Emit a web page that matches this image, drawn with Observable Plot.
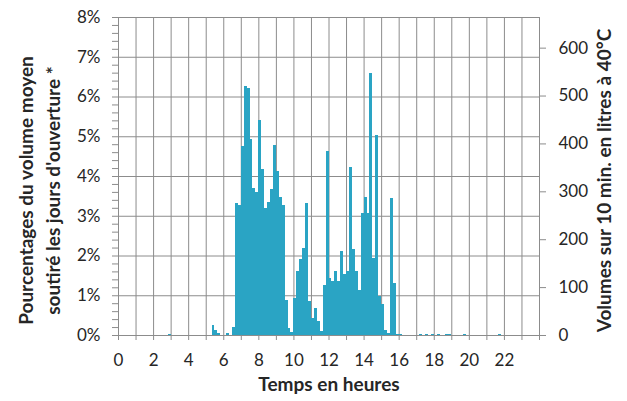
<!DOCTYPE html>
<html>
<head>
<meta charset="utf-8">
<script src="https://cdn.jsdelivr.net/npm/d3@7"></script>
<script src="https://cdn.jsdelivr.net/npm/@observablehq/plot@0.6"></script>
<style>
  html, body { margin: 0; padding: 0; background: #fff; }
  #chart svg { display: block; }
</style>
</head>
<body>
<div id="chart"></div>
<script>
// Hour grid, labelled hours, percentage grid and the litre scale on the right
const hourTicks = d3.range(0, 25);
const hourLabels = [0, 2, 4, 6, 8, 10, 12, 14, 16, 18, 20, 22];
const percentTicks = [0, 1, 2, 3, 4, 5, 6, 7, 8];
const litreTicks = [0, 100, 200, 300, 400, 500, 600];
const litresPerPercent = 83;

// Share of the mean volume drawn per 10-minute slot (%), two hours per row
const slots0to2   = [0,0,0,0,0,0, 0,0,0,0,0,0];
const slots2to4   = [0,0,0,0,0,0.03, 0,0,0,0,0,0];
const slots4to6   = [0,0,0,0,0,0, 0,0,0.25,0.12,0.05,0];
const slots6to8   = [0,0.05,0,0.21,3.32,3.26, 4.76,6.27,6.21,4.94,3.69,3.61];
const slots8to10  = [5.42,4.17,3.19,3.34,3.68,4.77, 4.13,3.48,3.26,0.88,0.17,0.08];
const slots10to12 = [0.92,1.6,1.91,2.2,3.32,0.86, 0.42,0.67,0.34,0.1,1.26,4.62];
const slots12to14 = [1.43,1.36,1.62,1.37,2.12,1.53, 1.62,4.22,2.17,1.62,1.13,3.07];
const slots14to16 = [3.48,3.07,6.59,1.93,5.04,0.97, 0.78,0.13,0.04,3.44,1.32,0.03];
const slots16to18 = [0.03,0,0,0,0,0, 0,0.03,0,0.03,0,0.03];
const slots18to20 = [0,0.03,0,0,0.03,0.03, 0,0,0,0,0.03,0];
const slots20to22 = [0,0,0,0,0,0, 0,0,0,0,0.03,0];
const slots22to24 = [0,0,0,0,0,0, 0,0,0,0,0,0];

const shares = [].concat(slots0to2, slots2to4, slots4to6, slots6to8, slots8to10,
  slots10to12, slots12to14, slots14to16, slots16to18, slots18to20, slots20to22, slots22to24);

const slots = shares.map((value, i) => ({ start: i / 6, end: (i + 1) / 6, value }));

const gridColor = "#8c8c8c";
const textColor = "#262626";
const barColor = "#2aa4c4";

const chart = Plot.plot({
  width: 627,
  height: 401,
  marginLeft: 118,
  marginRight: 88,
  marginTop: 17,
  marginBottom: 66,
  style: { fontFamily: "Lato, 'Open Sans', sans-serif", fontSize: "17px", color: textColor, background: "#fff" },
  x: { domain: [0, 24] },
  y: { domain: [0, 8] },
  marks: [
    Plot.ruleX(hourTicks, { stroke: gridColor }),
    Plot.ruleY(percentTicks, { stroke: gridColor }),
    Plot.rectY(slots, {
      x1: "start", x2: "end", y1: 0, y2: "value",
      fill: barColor, inset: 0, shapeRendering: "crispEdges"
    }),
    Plot.axisX({
      ticks: hourTicks,
      tickSize: 5,
      tickPadding: 13,
      stroke: gridColor,
      fill: textColor,
      tickFormat: d => hourLabels.includes(d) ? String(d) : "",
      label: null
    }),
    Plot.axisY({
      ticks: d3.range(0, 41).map(i => i / 5),
      tickSize: 6,
      tickPadding: 12,
      stroke: gridColor,
      fill: textColor,
      tickFormat: d => Number.isInteger(d) ? d + "%" : "",
      label: null
    }),
    Plot.axisY({
      anchor: "right",
      ticks: litreTicks.map(v => v / litresPerPercent),
      tickSize: 6,
      tickPadding: 13,
      stroke: gridColor,
      fill: textColor,
      tickFormat: d => String(Math.round(d * litresPerPercent)),
      label: null
    }),
    Plot.text(["Temps en heures"], {
      frameAnchor: "bottom", dy: 55, fontWeight: "bold", fontSize: 19, fill: textColor
    }),
    Plot.text(["Pourcentages du volume moyen\nsoutiré les jours d'ouverture *"], {
      frameAnchor: "left", textAnchor: "middle", rotate: -90, dx: -81, dy: 14, lineHeight: 1.45,
      fontWeight: "bold", fontSize: 19, fill: textColor
    }),
    Plot.text(["Volumes sur 10 min. en litres à 40°C"], {
      frameAnchor: "right", textAnchor: "middle", rotate: -90, dx: 65, dy: 4,
      fontWeight: "bold", fontSize: 19, fill: textColor
    })
  ]
});

document.getElementById("chart").appendChild(chart);
</script>
</body>
</html>
